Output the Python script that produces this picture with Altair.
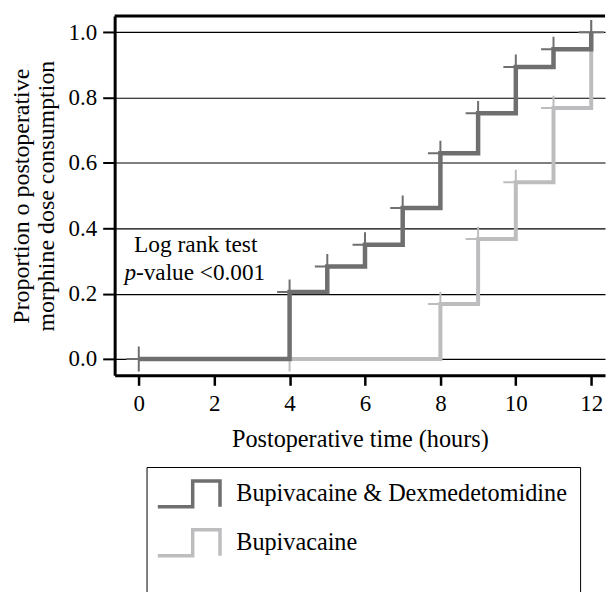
import altair as alt
import pandas as pd

# ---- data ----
groups = ["Bupivacaine & Dexmedetomidine", "Bupivacaine"]
colors = ["#6f6f6f", "#bdbdbf"]

dex_time = [0, 4, 5, 6, 7, 8, 9, 10, 11, 12]
dex_prop = [0.0, 0.205, 0.283, 0.35, 0.462, 0.63, 0.752, 0.894, 0.948, 1.0]
bup_time = [0, 4, 8, 9, 10, 11, 12]
bup_prop = [0.0, 0.0, 0.168, 0.367, 0.541, 0.768, 1.0]

x_ticks = [0, 2, 4, 6, 8, 10, 12]
y_ticks = [0.0, 0.2, 0.4, 0.6, 0.8, 1.0]

note_line1 = "Log rank test"
note_p = "p"
note_rest = "-value <0.001"

FONT = "Liberation Serif"
CROSS = "M -1 0 L 1 0 M 0 -1 L 0 1"
STEP = "M -1.282 1.061 L 1.576 1.061 L 1.576 -1.061 L 3.812 -1.061 L 3.812 1.061"

dex = pd.DataFrame({"time": dex_time, "prop": dex_prop, "group": groups[0]})
bup = pd.DataFrame({"time": bup_time, "prop": bup_prop, "group": groups[1]})
bup_marks = bup.iloc[1:]

legend = alt.Legend(
    title="\u2003" * 21, titleOrient="bottom", titleFontSize=19.7, titlePadding=30,
    titleLimit=2000, orient="none", legendX=32, legendY=452.5,
    symbolType=STEP, symbolSize=600.25, symbolStrokeWidth=3.5, symbolOpacity=1,
    labelFont=FONT, labelFontSize=24.3, labelColor="black", labelOffset=49,
    labelLimit=2000, padding=13, strokeColor="black", rowPadding=9,
)
color = alt.Color("group:N", scale=alt.Scale(domain=groups, range=colors), legend=legend)

xscale = alt.Scale(domain=[-0.64, 12.366], nice=False, zero=False)
yscale = alt.Scale(domain=[-0.05, 1.05], nice=False, zero=False)
xenc = alt.X("time:Q", scale=xscale, axis=alt.Axis(
    values=x_ticks, format="d", title="Postoperative time (hours)", grid=False,
    domain=True, domainColor="black", domainWidth=3,
    tickColor="black", tickWidth=2.5, tickSize=10, labelFontSize=23, labelColor="black",
    labelFont=FONT, labelPadding=7, titleFont=FONT, titleFontSize=24.3, titleFontWeight="normal",
    titleColor="black", titlePadding=12))
yenc = alt.Y("prop:Q", scale=yscale, axis=alt.Axis(
    values=y_ticks, format=".1f", title=["Proportion o postoperative", "morphine dose consumption"],
    grid=True, gridColor="black", gridWidth=1.2, domain=True, domainColor="black", domainWidth=3,
    tickColor="black", tickWidth=2,
    tickSize=12, labelFontSize=23, labelColor="black", labelFont=FONT, labelPadding=6,
    titleFont=FONT, titleFontSize=24, titleFontWeight="normal", titleColor="black",
    titleLineHeight=25, titlePadding=9.25))

def line(df, w):
    return alt.Chart(df).mark_line(interpolate="step-after", strokeWidth=w).encode(
        x=xenc, y=yenc, color=color)

def crosses(df):
    return alt.Chart(df).mark_point(shape=CROSS, size=625, filled=False, strokeWidth=2,
                                    opacity=1).encode(x=xenc, y=yenc, color=color)

notes1 = pd.DataFrame({"time": [1.51], "prop": [0.349], "t": [note_line1]})
notes2 = pd.DataFrame({"time": [-0.074], "prop": [0.263], "t": [note_p]})
notes3 = pd.DataFrame({"time": [-0.074], "prop": [0.263], "t": [note_rest]})

t1 = alt.Chart(notes1).mark_text(font=FONT, fontSize=23.5, color="black", align="center",
                                 baseline="middle").encode(x=xenc, y=yenc, text="t:N")
t2 = alt.Chart(notes2).mark_text(font=FONT, fontSize=23.3, color="black", align="right",
                                 baseline="middle", fontStyle="italic").encode(x=xenc, y=yenc, text="t:N")
t3 = alt.Chart(notes3).mark_text(font=FONT, fontSize=23.3, color="black", align="left",
                                 baseline="middle").encode(x=xenc, y=yenc, text="t:N")

# top edge of the frame (right edge is off the picture in the reference)
top_edge = alt.Chart(pd.DataFrame({"k": [0]})).mark_rule(color="black", strokeWidth=3).encode(
    x=alt.value(0), x2=alt.value("width"), y=alt.value(0))

chart = alt.layer(
    line(bup, 4), crosses(bup_marks), line(dex, 4.5), crosses(dex), t1, t2, t3, top_edge
).properties(
    width=492, height=360.5,
    padding={"left": 2, "top": 5, "right": 0, "bottom": 0},
).configure(font=FONT).configure_view(stroke=None, strokeWidth=0)

chart.save("out.html", embed_options={"renderer": "svg", "actions": False})
